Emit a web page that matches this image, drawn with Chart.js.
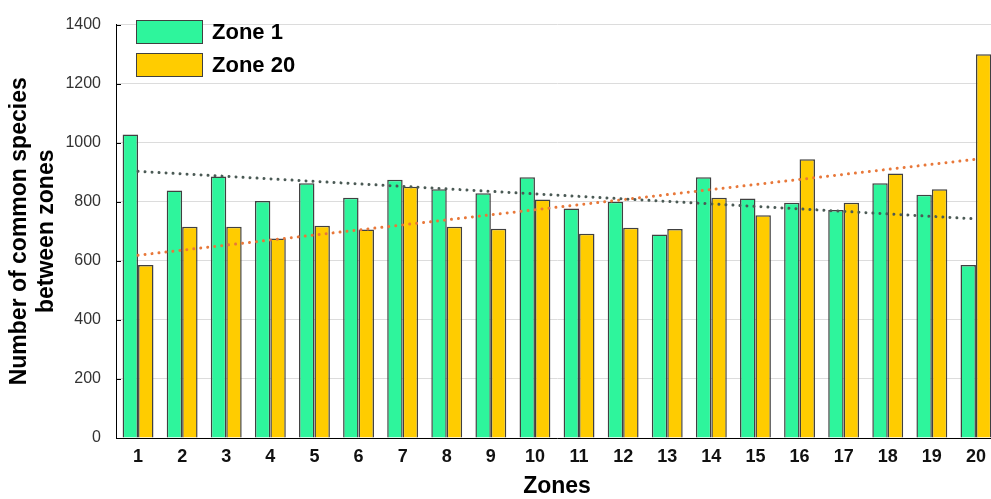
<!DOCTYPE html>
<html>
<head>
<meta charset="utf-8">
<script src="https://cdn.jsdelivr.net/npm/chart.js@4/dist/chart.umd.min.js"></script>
<style>
    html, body { margin: 0; padding: 0; background: #fff; overflow: hidden; }
    .wrap { width: 1000px; height: 499px; position: relative; }
</style>
</head>
<body>
<div class="wrap"><canvas id="zonesChart"></canvas></div>
<script>
const zones = ["1", "2", "3", "4", "5", "6", "7", "8", "9", "10",
               "11", "12", "13", "14", "15", "16", "17", "18", "19", "20"];
const zone1 = [1028, 838, 886, 803, 863, 814, 875, 842, 829, 883,
               777, 800, 689, 883, 811, 797, 772, 863, 824, 586];
const zone20 = [586, 715, 715, 676, 719, 706, 851, 715, 709, 808,
                692, 712, 708, 814, 754, 944, 797, 896, 842, 1300];
// trend lines: only the two end values
const zone1Trend = [903, null, null, null, null, null, null, null, null, null,
                    null, null, null, null, null, null, null, null, null, 742];
const zone20Trend = [619, null, null, null, null, null, null, null, null, null,
                     null, null, null, null, null, null, null, null, null, 944];
const yTicks = [0, 200, 400, 600, 800, 1000, 1200, 1400];

const FONT = "Arial, 'Liberation Sans', sans-serif";

// legend stacked in the top left corner of the plot
const boxLegend = {
    id: "boxLegend",
    afterDraw(chart) {
        const ctx = chart.ctx;
        const items = chart.data.datasets.filter(d => d.type !== "line");
        items.forEach((ds, i) => {
            const x = 136, y = 20 + i * 33;
            ctx.save();
            ctx.fillStyle = ds.backgroundColor;
            ctx.fillRect(x, y, 67, 24);
            ctx.strokeStyle = "#404040";
            ctx.lineWidth = 1;
            ctx.strokeRect(x + 0.5, y + 0.5, 66, 23);
            ctx.fillStyle = "#000";
            ctx.font = "bold 22px " + FONT;
            ctx.textBaseline = "middle";
            ctx.fillText(ds.label, x + 76, y + 13);
            ctx.restore();
        });
    }
};

// short inward tick marks on the value axis
const innerTicks = {
    id: "innerTicks",
    afterDatasetsDraw(chart) {
        const ctx = chart.ctx;
        const y = chart.scales.y;
        ctx.save();
        ctx.strokeStyle = "#000";
        ctx.lineWidth = 1;
        y.ticks.forEach(t => {
            const py = Math.round(y.getPixelForValue(t.value)) + 0.5;
            ctx.beginPath();
            ctx.moveTo(y.right, py);
            ctx.lineTo(y.right + 5, py);
            ctx.stroke();
        });
        ctx.restore();
    }
};

new Chart(document.getElementById("zonesChart"), {
    type: "bar",
    data: {
        labels: zones,
        datasets: [
            {
                type: "line",
                label: "Zone 1 trend",
                data: zone1Trend,
                spanGaps: true,
                borderColor: "#4b5a55",
                borderWidth: 3,
                borderDash: [0.01, 7],
                borderCapStyle: "round",
                pointRadius: 0,
                fill: false,
                order: 0
            },
            {
                type: "line",
                label: "Zone 20 trend",
                data: zone20Trend,
                spanGaps: true,
                borderColor: "#e8783a",
                borderWidth: 3,
                borderDash: [0.01, 7],
                borderCapStyle: "round",
                pointRadius: 0,
                fill: false,
                order: 0
            },
            {
                label: "Zone 1",
                data: zone1,
                backgroundColor: "#2ef59c",
                borderColor: "#404040",
                borderWidth: 1.5,
                categoryPercentage: 0.7,
                barPercentage: 1.0,
                order: 1
            },
            {
                label: "Zone 20",
                data: zone20,
                backgroundColor: "#ffcc00",
                borderColor: "#404040",
                borderWidth: 1.5,
                categoryPercentage: 0.7,
                barPercentage: 1.0,
                order: 1
            }
        ]
    },
    options: {
        responsive: true,
        maintainAspectRatio: false,
        animation: false,
        layout: { padding: { left: 0, top: 15, right: 2, bottom: 0 } },
        plugins: {
            legend: { display: false },
            tooltip: { enabled: false }
        },
        scales: {
            x: {
                grid: { display: false, drawTicks: false },
                border: { display: true, color: "#000", width: 1 },
                ticks: {
                    color: "#111",
                    font: { family: FONT, size: 18, weight: "bold" },
                    padding: 8,
                    maxRotation: 0
                },
                title: {
                    display: true,
                    text: "Zones",
                    color: "#000",
                    font: { family: FONT, size: 23, weight: "bold", lineHeight: 1.1 },
                    padding: { top: 0, bottom: 0 }
                },
                afterFit(scale) { scale.height = 61; }
            },
            y: {
                min: 0,
                max: 1400,
                afterBuildTicks(scale) { scale.ticks = yTicks.map(v => ({ value: v })); },
                grid: { color: "#dcdcdc", drawTicks: false },
                border: { display: true, color: "#000", width: 1 },
                ticks: {
                    color: "#333",
                    font: { family: FONT, size: 16 },
                    padding: 15,
                    callback: v => String(v)
                },
                title: {
                    display: true,
                    text: ["Number of common species", "between zones"],
                    color: "#000",
                    font: { family: FONT, size: 23, weight: "bold", lineHeight: 1.17 },
                    padding: { top: 6, bottom: 0 }
                },
                afterFit(scale) { scale.width = 116; }
            }
        }
    },
    plugins: [boxLegend, innerTicks]
});
</script>
</body>
</html>
